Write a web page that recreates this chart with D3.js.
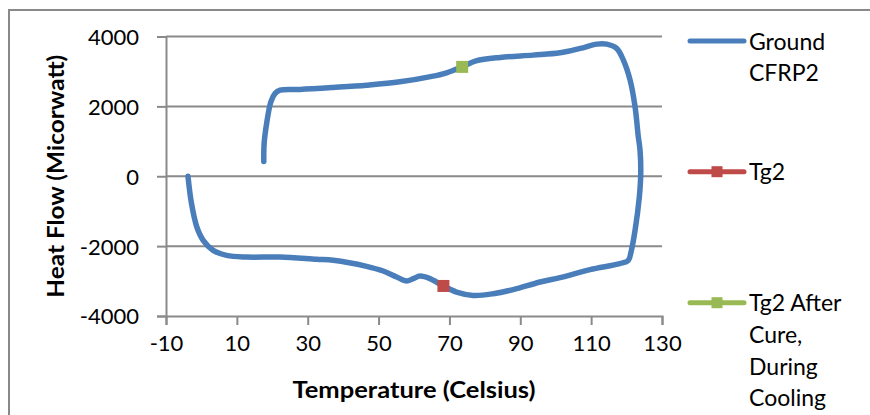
<!DOCTYPE html>
<html>
<head>
<meta charset="utf-8">
<script src="https://cdn.jsdelivr.net/npm/d3@7"></script>
<style>
  body { margin: 0; background: #fff; }
  text { font-family: Lato, "Open Sans", sans-serif; fill: #000; }
</style>
</head>
<body>
<script>
// DSC trace (temperature in C, heat flow in microwatt)
var temperature = [-3.8, -2.8, -1.3, 0.5, 3.3, 7.1, 12.8, 22.2, 32.5, 37.2, 46.6, 51.3, 55.1, 57.9, 59.8, 61.7, 64.5, 68.3, 72.0, 76.7, 82.4, 88.0, 95.6, 101.2, 109.7, 118.1, 120.5, 121.3, 122.4, 123.6, 124.0, 123.8, 123.3, 122.4, 121.0, 119.1, 117.2, 114.4, 111.6, 106.9, 101.2, 93.6, 84.3, 77.5, 73.6, 69.2, 65.4, 56.0, 46.6, 37.2, 27.8, 22.2, 20.8, 19.6, 18.4, 17.7, 17.6];
var heatFlow = [0, -783, -1452, -1834, -2120, -2264, -2312, -2312, -2378, -2407, -2579, -2713, -2885, -3000, -2931, -2857, -2931, -3143, -3315, -3410, -3361, -3246, -3028, -2903, -2673, -2501, -2407, -2150, -1547, -593, 77, 745, 1140, 1986, 2751, 3324, 3659, 3782, 3782, 3659, 3533, 3467, 3401, 3300, 3132, 2960, 2865, 2702, 2607, 2541, 2484, 2464, 2370, 2130, 1510, 937, 420];

var tg2 = [[68.3, -3140]];
var tg2Cure = [[73.6, 3130]];

var xTicks = [-10, 10, 30, 50, 70, 90, 110, 130];
var yTicks = [-4000, -2000, 0, 2000, 4000];

var seriesNames = ["Ground CFRP2", "Tg2", "Tg2 After Cure, During Cooling"];
var legendLines = [["Ground", "CFRP2"], ["Tg2"], ["Tg2 After", "Cure,", "During", "Cooling"]];

var colors = { ground: "#4A7EBB", tg2: "#BE4B48", cure: "#98B954" };

var width = 870, height = 415;
var plot = { left: 166, right: 662, top: 36.5, bottom: 316 };

var svg = d3.select("body").append("svg")
    .attr("width", width)
    .attr("height", height);

// chart border
svg.append("rect")
    .attr("x", 9).attr("y", 10)
    .attr("width", 900).attr("height", 450)
    .attr("fill", "none")
    .attr("stroke", "#898989")
    .attr("stroke-width", 2);

var x = d3.scaleLinear().domain([-10, 130]).range([plot.left, plot.right]);
var y = d3.scaleLinear().domain([-4000, 4000]).range([plot.bottom, plot.top]);

// gridlines
svg.append("g")
    .selectAll("line")
    .data(yTicks.filter(function (d) { return d > -4000; }))
    .enter().append("line")
    .attr("x1", plot.left).attr("x2", plot.right)
    .attr("y1", function (d) { return y(d); })
    .attr("y2", function (d) { return y(d); })
    .attr("stroke", "#8a8a8a")
    .attr("stroke-width", 2);

// axes (plain hyphen for negatives, like the original)
var fmt = function (d) { return String(d); };
var xAxis = svg.append("g")
    .attr("transform", "translate(0," + plot.bottom + ")")
    .call(d3.axisBottom(x).tickValues(xTicks).tickSize(9).tickPadding(10).tickFormat(fmt));
var yAxis = svg.append("g")
    .attr("transform", "translate(" + plot.left + ",0)")
    .call(d3.axisLeft(y).tickValues(yTicks).tickSize(9).tickPadding(18).tickFormat(fmt));

[xAxis, yAxis].forEach(function (a) {
    a.select(".domain").attr("stroke", "#8a8a8a").attr("stroke-width", 2);
    a.selectAll(".tick line").attr("stroke", "#8a8a8a").attr("stroke-width", 2);
    a.selectAll(".tick text").attr("font-size", 22).attr("font-family", "Lato").attr("fill", "#000");
});
yAxis.selectAll(".tick text").attr("dy", "0.36em");

// axis titles
svg.append("text")
    .attr("x", (plot.left + plot.right) / 2)
    .attr("y", 398)
    .attr("text-anchor", "middle")
    .attr("font-size", 23)
    .attr("font-weight", "bold")
    .attr("textLength", 243)
    .attr("lengthAdjust", "spacingAndGlyphs")
    .text("Temperature (Celsius)");

svg.append("text")
    .attr("transform", "translate(64," + ((plot.top + plot.bottom) / 2) + ") rotate(-90)")
    .attr("text-anchor", "middle")
    .attr("font-size", 23)
    .attr("font-weight", "bold")
    .attr("textLength", 243)
    .attr("lengthAdjust", "spacingAndGlyphs")
    .text("Heat Flow (Micorwatt)");

// the trace
var points = temperature.map(function (t, i) { return [t, heatFlow[i]]; });
var line = d3.line()
    .x(function (d) { return x(d[0]); })
    .y(function (d) { return y(d[1]); })
    .curve(d3.curveCatmullRom.alpha(0.5));

svg.append("path")
    .attr("d", line(points))
    .attr("fill", "none")
    .attr("stroke", colors.ground)
    .attr("stroke-width", 5.5)
    .attr("stroke-linecap", "round")
    .attr("stroke-linejoin", "round");

// Tg markers
function markers(data, color) {
    svg.append("g").selectAll("rect")
        .data(data)
        .enter().append("rect")
        .attr("x", function (d) { return x(d[0]) - 6; })
        .attr("y", function (d) { return y(d[1]) - 6; })
        .attr("width", 12).attr("height", 12)
        .attr("fill", color);
}
markers(tg2, colors.tg2);
markers(tg2Cure, colors.cure);

// legend
var legendY = [41, 171.7, 302.7];
var legendColors = [colors.ground, colors.tg2, colors.cure];
var legend = svg.append("g");
seriesNames.forEach(function (name, i) {
    var g = legend.append("g").attr("transform", "translate(0," + legendY[i] + ")");
    g.append("line")
        .attr("x1", 690).attr("x2", 744)
        .attr("stroke", legendColors[i])
        .attr("stroke-width", 5)
        .attr("stroke-linecap", "round");
    if (i > 0) {
        g.append("rect")
            .attr("x", 711.5).attr("y", -5.5)
            .attr("width", 11).attr("height", 11)
            .attr("fill", legendColors[i]);
    }
    g.append("text")
        .attr("x", 749)
        .attr("font-size", 23)
        .selectAll("tspan")
        .data(legendLines[i])
        .enter().append("tspan")
        .attr("x", 749)
        .attr("y", function (d, j) { return 8.5 + j * 31.7; })
        .text(function (d) { return d; });
});
</script>
</body>
</html>
